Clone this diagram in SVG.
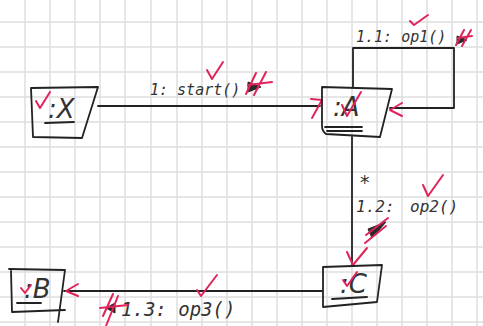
<svg xmlns="http://www.w3.org/2000/svg" width="483" height="326" viewBox="0 0 483 326">
<style>
.grid line{stroke:#dedede;stroke-width:1.5}
.ink{fill:none;stroke:#222;stroke-width:1.8;stroke-linecap:round;stroke-linejoin:round}
.red{fill:none;stroke:#e0245a;stroke-width:2;stroke-linecap:round;stroke-linejoin:round}
.lbl{font-family:"DejaVu Sans Mono","Liberation Mono",monospace;fill:#333;font-style:italic}
.obj{font-family:"DejaVu Sans","Liberation Sans",sans-serif;fill:#333;font-style:italic;font-size:26px}
.head{fill:#2a2a2a;stroke:#2a2a2a;stroke-width:1}
</style>
<rect width="483" height="326" fill="#fff"/>
<g class="grid">
<line x1="25" y1="0" x2="25" y2="326"/><line x1="50" y1="0" x2="50" y2="326"/><line x1="75" y1="0" x2="75" y2="326"/><line x1="100" y1="0" x2="100" y2="326"/><line x1="125" y1="0" x2="125" y2="326"/><line x1="151" y1="0" x2="151" y2="326"/><line x1="177" y1="0" x2="177" y2="326"/><line x1="202" y1="0" x2="202" y2="326"/><line x1="227" y1="0" x2="227" y2="326"/><line x1="252" y1="0" x2="252" y2="326"/><line x1="277" y1="0" x2="277" y2="326"/><line x1="302" y1="0" x2="302" y2="326"/><line x1="327" y1="0" x2="327" y2="326"/><line x1="352" y1="0" x2="352" y2="326"/><line x1="377" y1="0" x2="377" y2="326"/><line x1="402" y1="0" x2="402" y2="326"/><line x1="427" y1="0" x2="427" y2="326"/><line x1="452" y1="0" x2="452" y2="326"/><line x1="477" y1="0" x2="477" y2="326"/>
<line x1="0" y1="22" x2="483" y2="22"/><line x1="0" y1="47" x2="483" y2="47"/><line x1="0" y1="72" x2="483" y2="72"/><line x1="0" y1="97" x2="483" y2="97"/><line x1="0" y1="122" x2="483" y2="122"/><line x1="0" y1="147" x2="483" y2="147"/><line x1="0" y1="172" x2="483" y2="172"/><line x1="0" y1="197" x2="483" y2="197"/><line x1="0" y1="222" x2="483" y2="222"/><line x1="0" y1="247" x2="483" y2="247"/><line x1="0" y1="272" x2="483" y2="272"/><line x1="0" y1="297" x2="483" y2="297"/><line x1="0" y1="322" x2="483" y2="322"/>
</g>
<g id="connectors">
<path class="ink" d="M98 106 L320 106"/>
<path class="ink" d="M353 87 L353 48 L454 48 L454 108 L390 108"/>
<path class="ink" d="M352 137 L352 264"/>
<path class="ink" d="M64 291 L322 291"/>
<text class="lbl" x="150" y="95" font-size="15">1: start()</text>
<path class="head" d="M248 82 L261 87 L248 92 Z"/>
<path class="red" d="M207 70 L212 79 L223 62"/>
<path class="red" d="M246 94 L256 73 M254 95 L266 72 M248 85 L272 82"/>
<text class="lbl" x="356" y="42" font-size="15">1.1: op1()</text>
<path class="head" d="M457 36 L467 40 L457 44 Z"/>
<path class="red" d="M410 21 L414 25 L428 15"/>
<path class="red" d="M456 45 L464 30 M462 46 L471 30 M458 38 L472 36"/>
<text class="lbl" x="359" y="189" font-size="19">*</text>
<text class="lbl" x="356" y="212" font-size="16">1.2:<tspan x="410">op2()</tspan></text>
<path class="red" d="M423 185 L428 196 L443 175"/>
<path class="head" d="M386 222 L368 229 L372 238 Z"/>
<path class="red" d="M366 235 L388 218 M365 243 L386 226"/>
<path class="red" d="M347 252 L353 265 L367 248"/>
<path class="red" d="M311 99 L322 100 L312 118"/>
<path class="red" d="M402 103 L390 110 L402 116"/>
<text class="lbl" x="121" y="316" font-size="19">1.3: op3()</text>
<path class="head" d="M115 303 L106 308 L115 313 Z"/>
<path class="red" d="M197 290 L201 296 L217 275"/>
<path class="red" d="M103 316 L113 294 M106 326 L118 296 M100 308 L128 305"/>
<path class="red" d="M78 284 L66 291 L78 296"/>
</g>
<g id="node-X">
<path class="ink" d="M31 88 L98 87 L82 138 L33 137 Z"/>
<text class="obj" x="48" y="118">:X</text>
<path class="ink" d="M45 123 L74 122"/>
<path class="red" d="M36 101 L40 108 L50 92"/>
</g>
<g id="node-A">
<path class="ink" d="M322 87 L392 89 L380 137 L326 134 Q322 131 322 126 Z"/>
<text class="obj" x="333" y="116">:A</text>
<path class="ink" d="M325 127 L362 127 M327 131 L362 131"/>
<path class="red" d="M342 105 L347 116 L361 92"/>
</g>
<g id="node-B">
<path class="ink" d="M9 269 L65 270 L58 322 M11 270 L12 312 L65 310"/>
<text class="obj" x="24" y="298" font-size="22">:B</text>
<path class="ink" d="M17 303 L41 303"/>
<path class="red" d="M21 288 L25 293 L31 285"/>
</g>
<g id="node-C">
<path class="ink" d="M323 267 L382 265 L377 302 L323 307 Z"/>
<text class="obj" x="340" y="293" font-size="24">:C</text>
<path class="ink" d="M332 299 L367 297"/>
<path class="red" d="M343 280 L347 286 L357 272"/>
</g>
</svg>
